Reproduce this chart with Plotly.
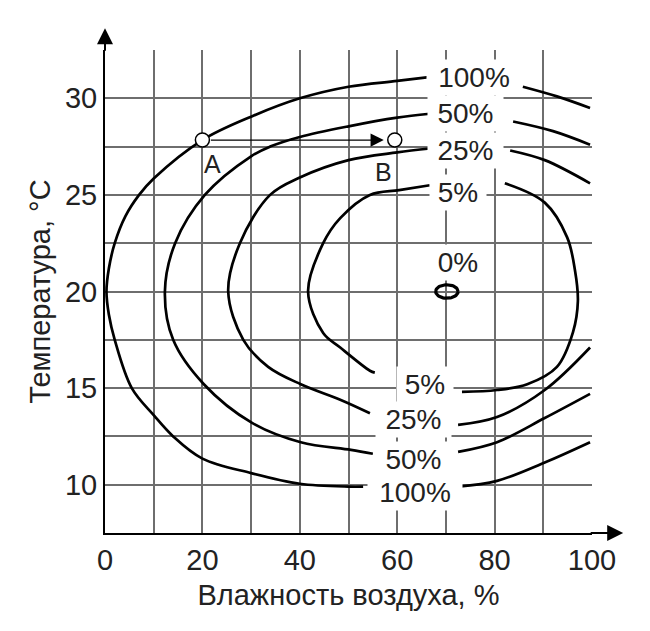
import numpy as np
import plotly.graph_objects as go

# contour levels, each as segments (None breaks the line at label gaps)
c100_x = [99.6, 92.8, 85.8, None,
          66.5, 60, 50, 40, 30, 20, 10, 7, 4.2, 2, 0.8, 0.3, 0.8, 2, 5.5, 10, 14, 20, 30, 40, 50, 53, None,
          72.5, 80.5, 90.3, 99.6]
c100_y = [29.5, 30.1, 30.6, None,
          31.1, 30.9, 30.6, 30.0, 29.05, 27.84, 25.85, 25.0, 23.9, 22.5, 21.2, 20.0, 18.8, 17.5, 15.0, 13.6, 12.5, 11.35, 10.6, 10.05, 9.9, 9.9, None,
          9.9, 10.2, 11.15, 12.2]

c50_x = [99.6, 92.0, 83.8, None,
         66.7, 60, 50, 40, 33.9, 30, 20.5, 14.4, 12.3, 14, 20.3, 30.2, 40.2, 50.5, 55, None,
         72.5, 80.5, 90.3, 99.6]
c50_y = [27.6, 28.3, 28.8, None,
         29.2, 29.0, 28.55, 28.0, 27.5, 27.0, 25.0, 22.5, 20.0, 17.5, 15.2, 13.2, 12.2, 11.8, 11.6, None,
         11.7, 12.2, 13.45, 14.7]

c25_x = [99.6, 90.3, 83.2, None,
         66.7, 60, 50, 40, 33.9, 27.7, 25.3, 28.4, 33.5, 40.2, 48.3, 54.4, None,
         72.5, 80.5, 90.3, 99.6]
c25_y = [25.6, 26.8, 27.3, None,
         27.4, 27.2, 26.8, 25.9, 25.0, 22.5, 20.0, 17.5, 16.1, 15.2, 14.4, 13.7, None,
         13.1, 13.5, 14.9, 17.1]

c5_x = [66.7, 60.4, 54.4, 48.3, 44.8, 41.7, 44.8, 48.3, 54.4, 55.4, None,
        73.3, 80.5, 86.7, 92.8, 96.1, 97.1, 96.5, 94.9, 90.3, 82.1]
c5_y = [25.5, 25.25, 25.0, 23.8, 22.5, 20.0, 17.85, 17.1, 15.9, 15.8, None,
        14.8, 14.9, 15.2, 16.1, 17.9, 19.5, 21.1, 22.8, 24.6, 25.6]

# 0% ring: centre and half-sizes
zero_cx, zero_cy = 70.2, 20.0
zero_rx, zero_ry = 2.3, 0.35

# labels on the curves
label_text = ["100%", "50%", "25%", "5%", "0%", "5%", "25%", "50%", "100%"]
label_x = [75.8, 74.1, 74.1, 72.5, 72.5, 65.7, 63.4, 63.4, 63.7]
label_y = [31.1, 29.2, 27.3, 25.1, 21.5, 15.2, 13.4, 11.3, 9.6]

# points A and B
pt_names = ["A", "B"]
pt_x = [20, 59.5]
pt_y = [27.84, 27.84]
pt_lab_x = [22.0, 57.1]
pt_lab_y = [26.6, 26.2]

x_ticks = list(range(0, 101, 10))
x_text = [str(v) if v % 20 == 0 else "" for v in x_ticks]
y_ticks = [7.5 + 2.5 * i for i in range(11)]
y_text = [f"{v:g}" if v % 5 == 0 else "" for v in y_ticks]

FONT = "Liberation Sans, Arial, sans-serif"

fig = go.Figure()
for xs, ys in [(c100_x, c100_y), (c50_x, c50_y), (c25_x, c25_y), (c5_x, c5_y)]:
    fig.add_trace(go.Scatter(x=xs, y=ys, mode="lines",
                             line=dict(color="black", width=2.7, shape="spline", smoothing=1.0),
                             connectgaps=False, hoverinfo="skip"))

t = np.linspace(0, 2 * np.pi, 60)
fig.add_trace(go.Scatter(x=zero_cx + zero_rx * np.cos(t), y=zero_cy + zero_ry * np.sin(t),
                         mode="lines", line=dict(color="black", width=3.2), hoverinfo="skip"))

for txt, lx, ly in zip(label_text, label_x, label_y):
    fig.add_annotation(x=lx, y=ly, text=txt, showarrow=False, bgcolor="white",
                       borderpad=2, width=len(txt) * 19 + 14,
                       font=dict(family=FONT, size=28, color="#222"))

# A -> B arrow
fig.add_annotation(x=pt_x[1], y=pt_y[1], ax=pt_x[0], ay=pt_y[0], axref="x", ayref="y",
                   text="", showarrow=True, arrowhead=2, arrowsize=2.2, arrowwidth=1.2,
                   arrowcolor="black", standoff=11, startstandoff=7)

fig.add_trace(go.Scatter(x=pt_x, y=pt_y, mode="markers",
                         marker=dict(size=14, color="white", line=dict(color="black", width=1.5)),
                         hoverinfo="skip"))

for name, lx, ly in zip(pt_names, pt_lab_x, pt_lab_y):
    fig.add_annotation(x=lx, y=ly, text=name, showarrow=False,
                       font=dict(family=FONT, size=25, color="#222"))

# axis arrows
fig.add_annotation(xref="paper", yref="paper", x=1.064, y=0, ax=-34, ay=0, text="",
                   showarrow=True, arrowhead=2, arrowsize=1.6, arrowwidth=2, arrowcolor="black")
fig.add_annotation(xref="paper", yref="paper", x=0, y=1.045, ax=0, ay=24, text="",
                   showarrow=True, arrowhead=2, arrowsize=1.6, arrowwidth=2, arrowcolor="black")

# page body has an 8px margin, so the figure is a bit smaller than the window
fig.update_layout(
    width=642, height=623,
    margin=dict(l=97, r=58, t=42, b=98),
    paper_bgcolor="white", plot_bgcolor="white",
    showlegend=False,
    font=dict(family=FONT, size=29, color="#222"),
)
fig.update_xaxes(range=[0, 100], tickvals=x_ticks, ticktext=x_text, automargin=False,
                 showgrid=True, gridcolor="#6e6e6e", gridwidth=1.5,
                 showline=True, linecolor="black", linewidth=2, zeroline=False, ticks="",
                 tickfont=dict(size=29),
                 title=dict(text="Влажность воздуха, %", font=dict(size=29), standoff=10))
fig.update_yaxes(range=[7.5, 32.5], tickvals=y_ticks, ticktext=y_text, automargin=False,
                 showgrid=True, gridcolor="#6e6e6e", gridwidth=1.5,
                 showline=True, linecolor="black", linewidth=2, zeroline=False, ticks="",
                 tickfont=dict(size=29),
                 title=dict(text="Температура, °C", font=dict(size=29), standoff=6))

fig.write_html("out.html")
